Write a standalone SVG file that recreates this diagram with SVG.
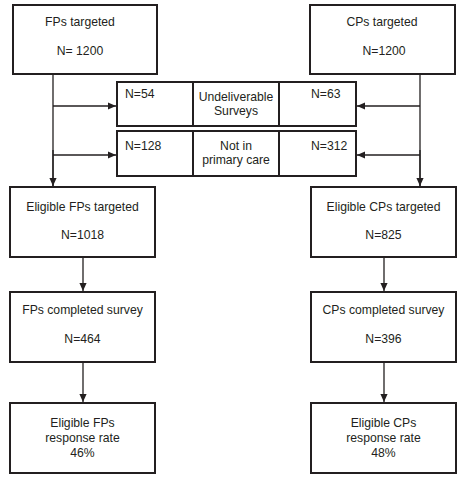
<svg xmlns="http://www.w3.org/2000/svg" width="466" height="480" viewBox="0 0 466 480">
<style>
.box{fill:#fff;stroke:#231f20;stroke-width:2}
.div{stroke:#231f20;stroke-width:2;fill:none}
.t{font-family:"Liberation Sans",Arial,sans-serif;font-size:12.2px;fill:#231f20}
.c{text-anchor:middle}
.ln{stroke:#231f20;stroke-width:1.3;fill:none}
</style>
<defs>
<marker id="ah" markerUnits="userSpaceOnUse" markerWidth="8" markerHeight="8" viewBox="0 0 8 8" refX="8" refY="4" orient="auto">
<path d="M0,0.4 L8,4 L0,7.6 Z" fill="#231f20"/>
</marker>
</defs>
<rect width="466" height="480" fill="#fff"/>
<g id="connectors">
<path class="ln" d="M53,74 V186"/>
<path class="ln" d="M53,106 H116" marker-end="url(#ah)"/>
<path class="ln" d="M53,155 H116" marker-end="url(#ah)"/>
<path class="ln" d="M53,150 V186" marker-end="url(#ah)"/>
<path class="ln" d="M420,74 V186"/>
<path class="ln" d="M420,106 H357" marker-end="url(#ah)"/>
<path class="ln" d="M420,155 H357" marker-end="url(#ah)"/>
<path class="ln" d="M420,150 V186" marker-end="url(#ah)"/>
<path class="ln" d="M83,258 V291" marker-end="url(#ah)"/>
<path class="ln" d="M83,363 V402" marker-end="url(#ah)"/>
<path class="ln" d="M384,258 V291" marker-end="url(#ah)"/>
<path class="ln" d="M384,363 V402" marker-end="url(#ah)"/>
</g>
<g id="fp-targeted">
<rect class="box" x="13" y="5" width="144" height="69"/>
<text class="t c" x="80" y="26">FPs targeted</text>
<text class="t c" x="80" y="55">N= 1200</text>
</g>
<g id="cp-targeted">
<rect class="box" x="310" y="5" width="145" height="69"/>
<text class="t c" x="382" y="26">CPs targeted</text>
<text class="t c" x="384" y="55">N=1200</text>
</g>
<g id="undeliverable">
<rect class="box" x="117" y="82" width="239" height="44"/>
<path class="div" d="M193,82 V126 M279,82 V126"/>
<text class="t" x="125" y="98">N=54</text>
<text class="t c" x="236" y="101">Undeliverable</text>
<text class="t c" x="236" y="115">Surveys</text>
<text class="t" x="311" y="98">N=63</text>
</g>
<g id="not-primary-care">
<rect class="box" x="117" y="131" width="239" height="45"/>
<path class="div" d="M193,131 V176 M279,131 V176"/>
<text class="t" x="125" y="150">N=128</text>
<text class="t c" x="236" y="149.5">Not in</text>
<text class="t c" x="236" y="164">primary care</text>
<text class="t" x="311" y="150">N=312</text>
</g>
<g id="fp-eligible">
<rect class="box" x="10" y="187" width="145" height="70"/>
<text class="t c" x="82.5" y="211">Eligible FPs targeted</text>
<text class="t c" x="82.5" y="239">N=1018</text>
</g>
<g id="cp-eligible">
<rect class="box" x="311" y="187" width="145" height="70"/>
<text class="t c" x="383.5" y="211">Eligible CPs targeted</text>
<text class="t c" x="383.5" y="239">N=825</text>
</g>
<g id="fp-completed">
<rect class="box" x="10" y="292" width="145" height="70"/>
<text class="t c" x="82.5" y="314">FPs completed survey</text>
<text class="t c" x="82.5" y="343">N=464</text>
</g>
<g id="cp-completed">
<rect class="box" x="311" y="292" width="145" height="70"/>
<text class="t c" x="383.5" y="314">CPs completed survey</text>
<text class="t c" x="383.5" y="343">N=396</text>
</g>
<g id="fp-rate">
<rect class="box" x="10" y="403" width="145" height="70"/>
<text class="t c" x="82.5" y="427">Eligible FPs</text>
<text class="t c" x="82.5" y="442">response rate</text>
<text class="t c" x="82.5" y="457">46%</text>
</g>
<g id="cp-rate">
<rect class="box" x="311" y="403" width="145" height="70"/>
<text class="t c" x="383.5" y="427">Eligible CPs</text>
<text class="t c" x="383.5" y="442">response rate</text>
<text class="t c" x="383.5" y="457">48%</text>
</g>
</svg>
